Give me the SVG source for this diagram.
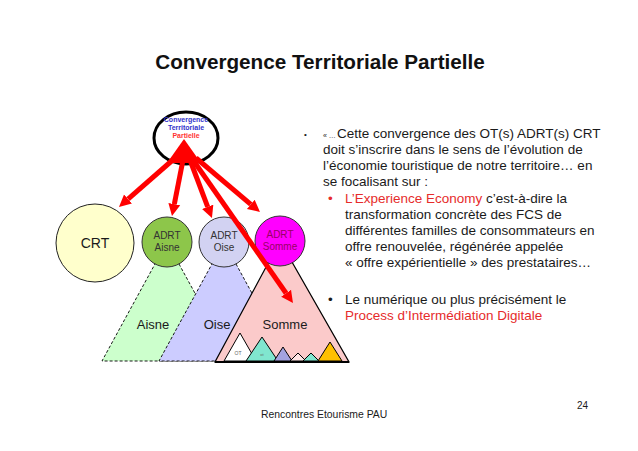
<svg xmlns="http://www.w3.org/2000/svg" width="638" height="451" viewBox="0 0 638 451">
<defs>
<marker id="ah" markerUnits="userSpaceOnUse" markerWidth="14" markerHeight="14" viewBox="0 -7 14 14" refX="0" refY="0" orient="auto">
<path d="M0,-6 L12,0 L0,6 z" fill="#FF0000"/>
</marker>
<style>
text{font-family:"Liberation Sans",Arial,sans-serif;}
.body{font-size:13.5px;fill:#1a1a1a;}
.red{fill:#E62B2B;}
.conn{stroke:#FF0000;stroke-width:5;fill:none;marker-end:url(#ah);}
.dash{stroke:#000;stroke-width:0.9;stroke-dasharray:3,2;}
.mini{stroke:#000;stroke-width:1;}
.lbl{font-size:13px;fill:#1a1a1a;text-anchor:middle;}
.adrt{font-size:10px;fill:#333;text-anchor:middle;}
</style>
</defs>
<rect width="638" height="451" fill="#fff"/>
<text x="320" y="69" text-anchor="middle" font-size="20.7" font-weight="bold" fill="#111">Convergence Territoriale Partielle</text>

<g id="trap-aisne"><polygon points="167,242 232,361 102,361" fill="#CCFFCC" class="dash"/><text class="lbl" x="153" y="329">Aisne</text></g>
<g id="trap-oise"><polygon points="224,242 289,361 159,361" fill="#CCCCFF" class="dash"/><text class="lbl" x="217" y="329">Oise</text></g>
<g id="trap-somme">
<polygon points="280,241 349,362 215,362" fill="#FBCACA" stroke="#000" stroke-width="1.2"/>
<line x1="215" y1="362" x2="349" y2="362" stroke="#000" stroke-width="2"/>
<text class="lbl" x="285" y="329">Somme</text>
<polygon class="mini" points="240,333 256,361 224,361" fill="#fff"/>
<text x="238" y="355" font-size="5" fill="#666" text-anchor="middle">OT</text>
<polygon class="mini" points="262,337 278,361 246,361" fill="#80E6CF"/>
<text x="262" y="356" font-size="4" fill="#666" text-anchor="middle">ot</text>
<polygon class="mini" points="283,347 292,361 274,361" fill="#A3A3E0"/>
<polygon class="mini" points="298,353 306,361 290,361" fill="#FFE4E4"/>
<polygon class="mini" points="311,353 319,361 303,361" fill="#80E6CF"/>
<polygon class="mini" points="330,342 342,361 318,361" fill="#FFC000"/>
</g>

<g id="crt"><circle cx="95" cy="243" r="39" fill="#FFFFCC" stroke="#222" stroke-width="1"/><text x="95" y="248" font-size="14" text-anchor="middle" fill="#1a1a1a">CRT</text></g>
<g id="adrt-aisne"><circle cx="167" cy="242" r="25" fill="#8DC64A" stroke="#333" stroke-width="1"/><text class="adrt" x="167" y="239">ADRT</text><text class="adrt" x="167" y="251">Aisne</text></g>
<g id="adrt-oise"><circle cx="224" cy="242" r="25" fill="#D2D2F2" stroke="#333" stroke-width="1"/><text class="adrt" x="224" y="239">ADRT</text><text class="adrt" x="224" y="251">Oise</text></g>
<g id="adrt-somme"><circle cx="280" cy="241" r="25" fill="#FF00FF" stroke="#333" stroke-width="1"/><text class="adrt" x="280" y="238" style="fill:#990066">ADRT</text><text class="adrt" x="280" y="250" style="fill:#990066">Somme</text></g>

<g id="ctp">
<ellipse cx="186" cy="138" rx="32" ry="26" fill="#fff" stroke="#000" stroke-width="3"/>
<text x="186" y="122" font-size="7" font-weight="bold" fill="#3333CC" text-anchor="middle">Convergence</text>
<text x="186" y="130" font-size="7" font-weight="bold" fill="#3333CC" text-anchor="middle">Territoriale</text>
<text x="186" y="138" font-size="7" font-weight="bold" fill="#FF3333" text-anchor="middle">Partielle</text>
<polygon points="184,139 201,163 167,163" fill="#FF0000"/>
</g>

<g id="connectors">
<line class="conn" x1="175" y1="158" x2="128" y2="199.1"/>
<line class="conn" x1="183" y1="160" x2="174.3" y2="204.2"/>
<line class="conn" x1="190" y1="160" x2="207.7" y2="206.8"/>
<line class="conn" x1="196" y1="158" x2="250.8" y2="204.3"/>
<line class="conn" x1="193" y1="160" x2="286.1" y2="293.2"/>
</g>

<g id="texte">
<text x="304" y="137" font-size="8" fill="#1a1a1a">•</text>
<text x="323" y="138" font-size="7" fill="#1a1a1a">« …</text>
<text class="body" x="337" y="138">Cette convergence des OT(s) ADRT(s) CRT</text>
<text class="body" x="323" y="154">doit s’inscrire dans le sens de l’évolution de</text>
<text class="body" x="323" y="170">l’économie touristique de notre territoire… en</text>
<text class="body" x="323" y="186">se focalisant sur :</text>
<text class="body red" x="328" y="203">•</text>
<text class="body" x="345" y="203"><tspan class="red">L’Experience Economy</tspan> c’est-à-dire la</text>
<text class="body" x="345" y="219">transformation concrète des FCS de</text>
<text class="body" x="345" y="235">différentes familles de consommateurs en</text>
<text class="body" x="345" y="251">offre renouvelée, régénérée appelée</text>
<text class="body" x="345" y="267">« offre expérientielle » des prestataires…</text>
<text class="body" x="328" y="304">•</text>
<text class="body" x="345" y="304">Le numérique ou plus précisément le</text>
<text class="body red" x="345" y="320">Process d’Intermédiation Digitale</text>
</g>

<text x="577" y="409" font-size="10" fill="#1a1a1a">24</text>
<text x="261" y="418" font-size="10.4" fill="#1a1a1a">Rencontres Etourisme  PAU</text>
</svg>
